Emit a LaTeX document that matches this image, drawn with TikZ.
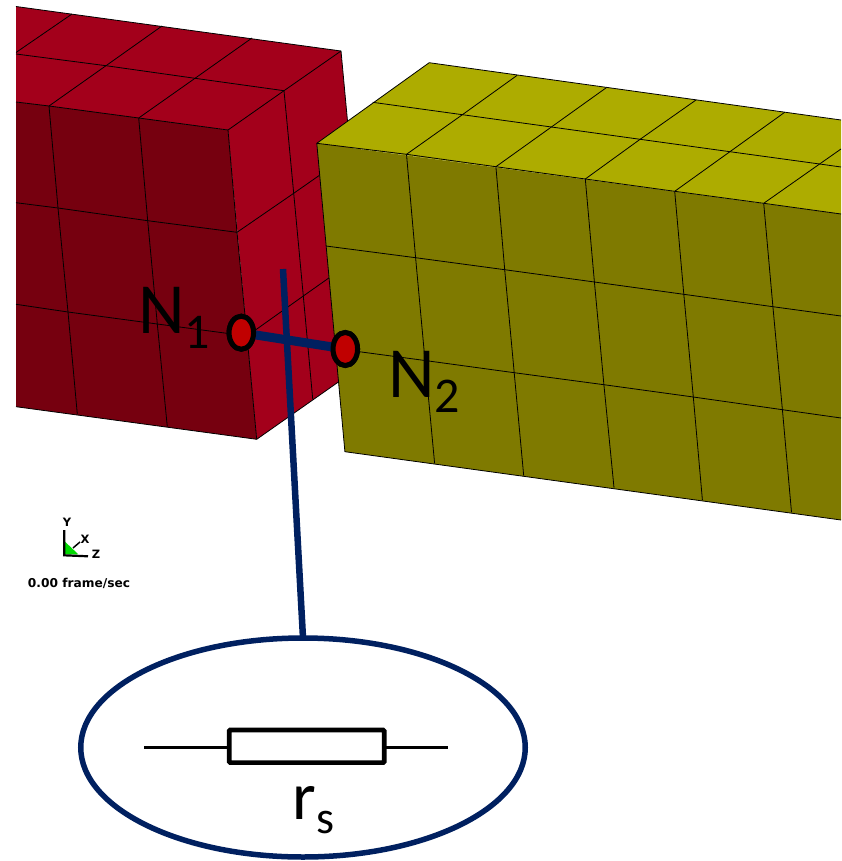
\documentclass[tikz,border=0pt]{standalone}
\usepackage{fontspec}
\setmainfont{Carlito}
\newfontfamily\hudfont{DejaVu Sans}
\usetikzlibrary{shapes.geometric}
\definecolor{redfront}{HTML}{76000F}
\definecolor{redtop}{HTML}{A3001B}
\definecolor{yeltop}{HTML}{ADAC00}
\definecolor{yelfront}{HTML}{7F7A00}
\definecolor{nodered}{HTML}{C00000}
\definecolor{navy}{HTML}{002060}
\newcommand{\bigtxt}{\fontsize{72}{72}\selectfont}
\newcommand{\subtxt}[1]{{\fontsize{50}{50}\selectfont\raisebox{-15pt}{#1}}}
\tikzset{
  mesh/.style={draw=black,line width=0.8pt,line join=round},
  endpoint/.style={ellipse,draw=black,fill=nodered,line width=5pt,minimum width=24.5pt,minimum height=33pt,inner sep=0pt,outer sep=0pt},
  wire/.style={draw=navy,line width=9pt},
  leader/.style={draw=navy,line width=6.5pt},
  bubble/.style={ellipse,draw=navy,fill=white,line width=5.5pt,minimum width=444.5pt,minimum height=219pt,inner sep=0pt,outer sep=0pt},
  resistorbox/.style={rectangle,draw=black,fill=white,line width=4.6pt,rounded corners=1pt,minimum width=155pt,minimum height=32.7pt,inner sep=0pt,outer sep=0pt},
  lead/.style={draw=black,line width=3pt},
  biglabel/.style={anchor=base west,inner sep=0pt,outer sep=0pt,text=black},
  axislabel/.style={inner sep=0pt,outer sep=0pt,text=black,font=\hudfont\bfseries\fontsize{11.5}{12}\selectfont},
  hud/.style={inner sep=0pt,outer sep=0pt,text=black,font=\hudfont\bfseries\fontsize{12.2}{13}\selectfont},
}
\begin{document}
\begin{tikzpicture}[x=1pt,y=-1pt]
\useasboundingbox (0,0) rectangle (841,861);
% ---------- red block ----------
\fill[redtop] (16,6.5) -- (341,51) -- (369.7,360) -- (256.7,439.3) -- (228,130) -- (16,102) -- cycle;
\fill[redfront] (16,102) -- (49,106) -- (138.7,118) -- (228,130) -- (256.7,439.3) -- (16,406.7) -- cycle;
\draw[mesh] (16,6.5) -- (341,51) -- (369.7,360) -- (256.7,439.3) -- (16,406.7);
\draw[mesh] (16,54) -- (106,65.7) -- (195,78.3) -- (284,90.7);
\draw[mesh] (16,102) -- (49,106) -- (138.7,118) -- (228,130);
\draw[mesh] (72,14) -- (16,52.5);
\draw[mesh] (162,26) -- (106,65.7) -- (49,106);
\draw[mesh] (252,38) -- (195,78.3) -- (138.7,118);
\draw[mesh] (341,51) -- (284,90.7) -- (228,130);
\draw[mesh] (49,106) -- (58,208) -- (68,312) -- (77.3,414);
\draw[mesh] (138.7,118) -- (147.7,220.7) -- (157.3,324) -- (167.3,426.7);
\draw[mesh] (228,130) -- (237,232.3) -- (247,336) -- (256.7,439.3);
\draw[mesh] (16,202.7) -- (58,208) -- (147.7,220.7) -- (237,232.3);
\draw[mesh] (16,304.3) -- (68,312) -- (157.3,324) -- (247,336);
\draw[mesh] (284,90.7) -- (293.7,193.3) -- (303.3,296) -- (312.7,399);
\draw[mesh] (237,232.3) -- (293.7,193.3) -- (350,154);
\draw[mesh] (247,336) -- (303.3,296) -- (360,256);
% ---------- yellow block ----------
\fill[yeltop] (316.8,143.3) -- (429.2,62.7) -- (841,120) -- (841,214) -- cycle;
\fill[yelfront] (316.8,143.3) -- (841,214) -- (841,520) -- (344.9,451.7) -- cycle;
\draw[mesh] (841,120) -- (429.2,62.7) -- (316.8,143.3) -- (344.9,451.7) -- (841,520);
\draw[mesh] (316.8,143.3) -- (406.5,154.3) -- (495.9,166.7) -- (585.3,179) -- (674.7,191.3) -- (763.7,203.3) -- (841,214);
\draw[mesh] (372.6,102.3) -- (462.4,114.7) -- (551.4,127) -- (640.1,139.3) -- (729.9,151.7) -- (819.6,164) -- (841,167);
\draw[mesh] (406.5,154.3) -- (462.4,114.7) -- (517.2,75.3);
\draw[mesh] (495.9,166.7) -- (551.4,127) -- (606.3,87.7);
\draw[mesh] (585.3,179) -- (640.1,139.3) -- (696,100);
\draw[mesh] (674.7,191.3) -- (729.9,151.7) -- (784.7,112.3);
\draw[mesh] (763.7,203.3) -- (819.6,164) -- (841,149);
\draw[mesh] (325.9,246) -- (415.6,257.7) -- (504.7,269.7) -- (594.4,282) -- (683.8,294.3) -- (772.9,306.7) -- (841,316);
\draw[mesh] (335.2,348.5) -- (425,360.5) -- (514.2,372.7) -- (603.9,384.7) -- (693.3,397) -- (782.4,409.7) -- (841,418);
\draw[mesh] (406.5,154.3) -- (415.6,257.7) -- (425,360.5) -- (434.6,463.3);
\draw[mesh] (495.9,166.7) -- (504.7,269.7) -- (514.2,372.7) -- (523.7,475.7);
\draw[mesh] (585.3,179) -- (594.4,282) -- (603.9,384.7) -- (614,487.7);
\draw[mesh] (674.7,191.3) -- (683.8,294.3) -- (693.3,397) -- (702.4,500);
\draw[mesh] (763.7,203.3) -- (772.9,306.7) -- (782.4,409.7) -- (791.5,512.3);
% ---------- axis triad ----------
\fill[green!85!black] (65,541.7) -- (65,554.3) -- (78.3,554.3) -- cycle;
\draw[black,line width=2.2pt] (64.3,530) -- (64.3,555.3) -- (88,556.3);
\draw[black,line width=1.5pt] (73,548) -- (80,542);
\node[axislabel] (axisY) at (67,522) {Y};
\node[axislabel] (axisX) at (85,539) {X};
\node[axislabel] (axisZ) at (96,554) {Z};
\node[hud] (fps) at (79,583.5) {0.00 frame/sec};
% ---------- connector overlay ----------
\node[bubble] (zoomview) at (303,747.5) {};
\node[endpoint] (n1) at (241.3,332.7) {};
\node[endpoint] (n2) at (345.3,349) {};
\coordinate (stub) at (283,269);
\draw[wire] (n1) -- (n2);
\draw[leader] (stub) -- (zoomview.north);
\node[endpoint] at (n1) {};
\node[endpoint] at (n2) {};
\node[biglabel] (lab1) at (138.5,333) {\bigtxt N\subtxt{1}};
\node[biglabel] (lab2) at (388.5,397.7) {\bigtxt N\subtxt{2}};
% ---------- resistor ----------
\node[resistorbox] (res) at (306.7,746.3) {};
\coordinate (leadL) at (144,747.5);
\coordinate (leadR) at (448,747.5);
\draw[lead] (leadL) -- (res.west |- leadL);
\draw[lead] (res.east |- leadR) -- (leadR);
\node[biglabel] (rs) at (292.5,819) {\fontsize{68}{68}\selectfont r{\fontsize{46}{46}\selectfont\raisebox{-14pt}{s}}};
\end{tikzpicture}
\end{document}
